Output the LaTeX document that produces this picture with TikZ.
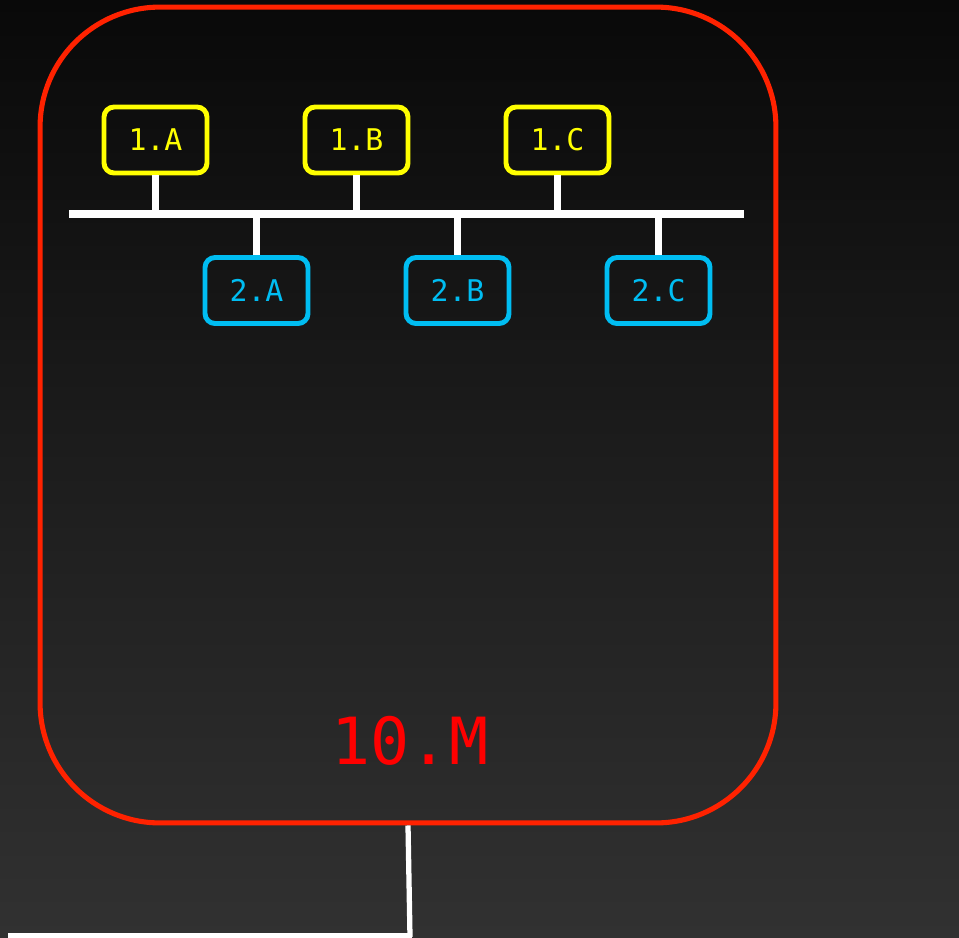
\documentclass[tikz,border=0pt]{standalone}
\usepackage{fontspec}
\setmonofont{DejaVu Sans Mono}
\usetikzlibrary{positioning, calc}
\definecolor{nyellow}{HTML}{FFFF00}
\definecolor{nblue}{HTML}{00BDF2}
\definecolor{nred}{HTML}{FF2200}
\definecolor{ntext}{HTML}{FF0000}
\definecolor{bgtop}{HTML}{090909}
\definecolor{bgbot}{HTML}{313131}
\tikzset{
  hostbox/.style={draw, line width=2.8pt, rounded corners=0.2cm, fill=none,
                  minimum width=2.06cm, minimum height=1.32cm, inner sep=0pt,
                  font=\ttfamily\fontsize{17}{20}\selectfont},
  ybox/.style={hostbox, draw=nyellow, text=nyellow},
  bbox/.style={hostbox, draw=nblue, text=nblue},
  sitebox/.style={draw=nred, line width=2.9pt, rounded corners=2.4cm,
                  minimum width=14.72cm, minimum height=16.32cm},
  wire/.style={white, line width=4pt},
}

\begin{document}
\begin{tikzpicture}[x=0.02cm, y=-0.02cm]
  % backdrop
  \useasboundingbox (0,0) rectangle (959,937);
  \fill[top color=bgtop, bottom color=bgbot] (0,0) rectangle (959,937);

  % site outline
  \node[sitebox] (site) at (408,415) {};
  \node[font=\ttfamily\fontsize{37}{40}\selectfont, text=ntext] (sitelbl) at (410,741) {10.M};

  % bus
  \coordinate (busl) at (69,214);
  \coordinate (busr) at (744,214);
  \draw[wire] (busl) -- (busr);

  % row 1
  \node[ybox] (n1a) at (155.5,140) {1.A};
  \node[ybox] (n1b) at (356.5,140) {1.B};
  \node[ybox] (n1c) at (557.5,140) {1.C};

  % row 2
  \node[bbox] (n2a) at (256.5,290.5) {2.A};
  \node[bbox] (n2b) at (457.5,290.5) {2.B};
  \node[bbox] (n2c) at (658.5,290.5) {2.C};

  \foreach \n in {n1a,n1b,n1c}{
    \draw[wire] (\n.south) -- (\n.south |- busl);
  }
  \foreach \n in {n2a,n2b,n2c}{
    \draw[wire] (\n.north) -- (\n.north |- busl);
  }

  % uplink
  \coordinate (up) at (410,937);
  \draw[white, line width=3pt] (site.south) -- (up);
  \coordinate (nextl) at (8,936);
  \coordinate (nextr) at (412,936);
  \draw[white, line width=3pt] (nextl) -- (nextr);
\end{tikzpicture}
\end{document}
